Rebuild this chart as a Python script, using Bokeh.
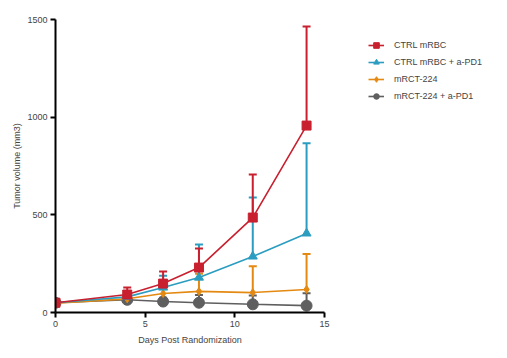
from bokeh.plotting import figure
from bokeh.models import ColumnDataSource, Whisker, TeeHead, Legend, LegendItem, Range1d, FixedTicker
from bokeh.embed import file_html
from bokeh.resources import INLINE

days = [0, 4, 6, 8, 11, 14]
names = ["CTRL mRBC", "CTRL mRBC + a-PD1", "mRCT-224", "mRCT-224 + a-PD1"]
ctrl = [50, 92, 148, 230, 486, 957]
ctrl_err = [5, 36, 62, 98, 220, 507]
ctrl_pd1 = [50, 80, 128, 179, 287, 405]
ctrl_pd1_err = [5, 20, 60, 169, 302, 461]
rct = [48, 70, 97, 108, 102, 118]
rct_err = [4, 10, 66, 90, 135, 181]
rct_pd1 = [50, 65, 56, 50, 42, 35]
rct_pd1_err = [4, 10, 20, 40, 45, 63]

colors = ["#C8202F", "#2A9DC0", "#E48A12", "#5F5F5F"]
markers = ["square", "triangle", "diamond", "circle"]
msizes = [9, 9, 8, 11]
series = [(ctrl, ctrl_err), (ctrl_pd1, ctrl_pd1_err), (rct, rct_err), (rct_pd1, rct_pd1_err)]

p = figure(frame_width=269, frame_height=293, output_backend="svg", toolbar_location=None,
           x_range=Range1d(0, 15), y_range=Range1d(0, 1500),
           min_border_left=55, min_border_top=19, min_border_bottom=30, min_border_right=0)
p.outline_line_color = None
p.grid.grid_line_color = None

items = []
for i in reversed(range(4)):
    ys, es = series[i]
    ups = [y + e for y, e in zip(ys, es)]
    src = ColumnDataSource(dict(x=days, y=ys, up=ups))
    w = Whisker(source=src, base="x", lower="y", upper="up", line_color=colors[i], line_width=2,
                upper_head=TeeHead(size=8, line_color=colors[i], line_width=2), lower_head=None)
    p.add_layout(w)
    l = p.line("x", "y", source=src, line_color=colors[i], line_width=1.6)
    m = p.scatter("x", "y", source=src, marker=markers[i], size=msizes[i], fill_color=colors[i], line_color=colors[i])
    items.insert(0, LegendItem(label=names[i], renderers=[l, m]))

legend = Legend(items=items, location=(44, 209), label_text_font="Liberation Sans",
                label_text_font_size="9px", glyph_width=16, glyph_height=14, spacing=3,
                border_line_color=None, background_fill_alpha=0, margin=0, padding=0,
                label_standoff=10)
p.add_layout(legend, "right")

for ax in [p.xaxis[0], p.yaxis[0]]:
    ax.axis_line_width = 2
    ax.axis_line_color = "black"
    ax.major_tick_line_width = 2
    ax.major_tick_in = 0
    ax.major_tick_out = 5
    ax.minor_tick_line_color = None
    ax.major_label_standoff = 3
    ax.major_label_text_font = "Liberation Sans"
    ax.major_label_text_font_size = "9px"
    ax.axis_label_text_font = "Liberation Sans"
    ax.axis_label_text_font_size = "9px"
    ax.axis_label_text_font_style = "normal"

p.xaxis.ticker = FixedTicker(ticks=[0, 5, 10, 15])
p.yaxis.ticker = FixedTicker(ticks=[0, 500, 1000, 1500])
p.xaxis.axis_label = "Days Post Randomization"
p.yaxis.axis_label = "Tumor volume (mm3)"
p.xaxis.axis_label_standoff = 5
p.yaxis.axis_label_standoff = 2

open("out.html", "w").write(file_html(p, INLINE))
